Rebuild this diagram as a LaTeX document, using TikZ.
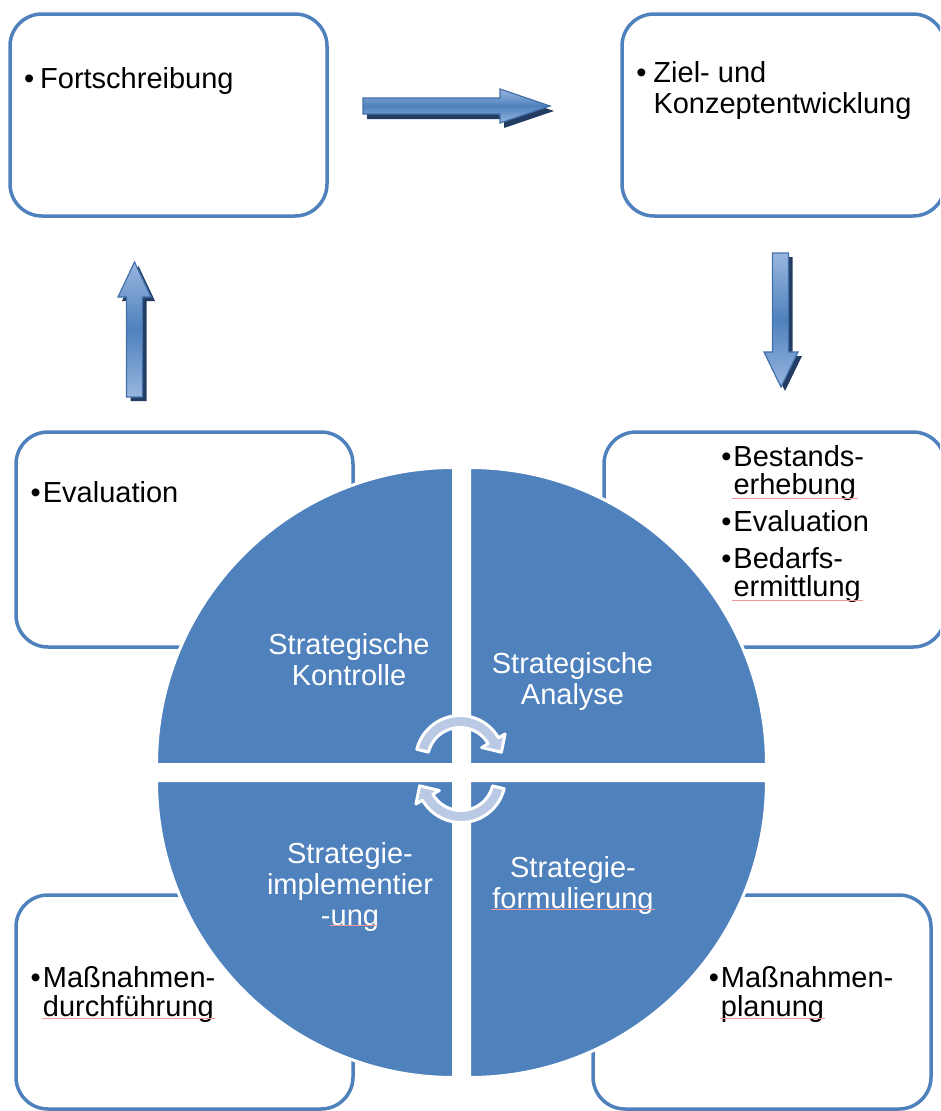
\documentclass[tikz,border=0pt]{standalone}
\usepackage{fontspec}
\setmainfont{Liberation Sans}
\usetikzlibrary{calc}
\definecolor{acc}{RGB}{79,129,189}
\definecolor{arrline}{RGB}{66,112,172}
\definecolor{arrlight}{RGB}{152,182,222}
\definecolor{shad}{RGB}{35,60,98}
\definecolor{cyc}{RGB}{186,202,228}
\definecolor{spell}{RGB}{242,150,150}
\begin{document}
\begin{tikzpicture}[x=1pt,y=-1pt,
  box/.style={draw=acc, line width=3.5pt, rounded corners=32pt, fill=white, inner sep=0pt},
  btxt/.style={font=\fontsize{29}{31.5}\selectfont, text=black, align=left, inner sep=0pt, anchor=base west},
  qtxt/.style={font=\fontsize{29}{31}\selectfont, text=white, align=center, inner sep=0pt},
  quad/.style={fill=acc, draw=white, line width=3pt},
  blockarrow/.style={draw=arrline, line width=1.2pt, line join=miter, top color=arrlight, bottom color=arrlight, middle color=acc},
  arrowshadow/.style={fill=shad},
  cycarrow/.style={fill=cyc, draw=white, line width=3pt, line join=round},
  spellline/.style={draw=spell, line width=0.9pt}]
\useasboundingbox (0,0) rectangle (940,1111);
\clip (0,0) rectangle (940,1111);

% boxes
\node[box, minimum width=317pt, minimum height=202pt] (bfort) at (168.5,115) {};
\node[box, minimum width=323pt, minimum height=202pt] (bziel) at (783.5,115) {};
\node[box, minimum width=337pt, minimum height=215pt] (beval) at (184.5,539.5) {};
\node[box, minimum width=341pt, minimum height=215pt] (bbest) at (774.5,539.5) {};
\node[box, minimum width=337pt, minimum height=214pt] (bdurch) at (184.5,1002) {};
\node[box, minimum width=338pt, minimum height=214pt] (bplan) at (762,1002) {};

% quadrants
\path[quad] (453.5,764.5) -- (156.5,764.5) arc[start angle=180, end angle=270, radius=297] -- cycle;
\path[quad] (469.5,764.5) -- (469.5,467.5) arc[start angle=270, end angle=360, radius=297] -- cycle;
\path[quad] (469.5,780.5) -- (766.5,780.5) arc[start angle=0, end angle=90, radius=297] -- cycle;
\path[quad] (453.5,780.5) -- (453.5,1077.5) arc[start angle=90, end angle=180, radius=297] -- cycle;

% box texts (base anchor = baseline of the last line)
\node[btxt] (tfort) at (40,88.5) {\llap{•\hspace{6pt}}Fortschreibung};
\node[btxt] (tziel) at (653.3,113.5) {\llap{•\hspace{7pt}}Ziel- und\\Konzeptentwicklung};
\node[btxt] (teval) at (42.7,502.3) {\llap{•\hspace{2pt}}Evaluation};
\node[btxt, font=\fontsize{29}{28.4}\selectfont] (tbest) at (733.3,596.7)
  {\llap{•\hspace{2pt}}Bestands-\\erhebung\\[8.4pt]\llap{•\hspace{2pt}}Evaluation\\[8.4pt]\llap{•\hspace{2pt}}Bedarfs-\\ermittlung};
\node[btxt, font=\fontsize{29}{29.4}\selectfont] (tdurch) at (42.7,1016.7) {\llap{•\hspace{2pt}}Maßnahmen-\\durchführung};
\node[btxt, font=\fontsize{29}{29.4}\selectfont] (tplan) at (720.7,1016.7) {\llap{•\hspace{2pt}}Maßnahmen-\\planung};

\node[qtxt] (qk) at (349,660) {Strategische\\Kontrolle};
\node[qtxt] (qa) at (572.5,681.5) {Strategische\\Analyse};
\node[qtxt] (qi) at (350,886.5) {Strategie-\\implementier\\-ung};
\node[qtxt] (qf) at (573,885.5) {Strategie-\\formulierung};

% cycle arrows
\coordinate (U) at (460,760);
\coordinate (L) at (461,778);
\path[cycarrow] ($(U)+(194:44.5)$) arc[start angle=194, end angle=330, radius=44.5]
  -- ($(U)+(330:52)$) -- ($(U)+(330:38.5)+(55:14)$) -- ($(U)+(330:25)$)
  -- ($(U)+(330:32.5)$) arc[start angle=330, end angle=194, radius=32.5] -- cycle;
\path[cycarrow] ($(L)+(14:44.5)$) arc[start angle=14, end angle=150, radius=44.5]
  -- ($(L)+(150:52)$) -- ($(L)+(150:38.5)+(235:14)$) -- ($(L)+(150:25)$)
  -- ($(L)+(150:32.5)$) arc[start angle=150, end angle=14, radius=32.5] -- cycle;

% block arrows (shadow first)
\fill[arrowshadow, shift={(4,5)}] (363,98) -- (500,98) -- (500,89) -- (550,106) -- (500,123) -- (500,114) -- (363,114) -- cycle;
\path[blockarrow] (363,98) -- (500,98) -- (500,89) -- (550,106) -- (500,123) -- (500,114) -- (363,114) -- cycle;

\fill[arrowshadow, shift={(4,4)}] (126.5,397) -- (126.5,297) -- (118,297) -- (134.5,262) -- (151,297) -- (142.5,297) -- (142.5,397) -- cycle;
\path[blockarrow] (126.5,397) -- (126.5,297) -- (118,297) -- (134.5,262) -- (151,297) -- (142.5,297) -- (142.5,397) -- cycle;

\fill[arrowshadow, shift={(4,4)}] (772.5,253) -- (788.5,253) -- (788.5,352) -- (798,352) -- (781,387) -- (764,352) -- (772.5,352) -- cycle;
\path[blockarrow] (772.5,253) -- (788.5,253) -- (788.5,352) -- (798,352) -- (781,387) -- (764,352) -- (772.5,352) -- cycle;

% spell-check underlines
\draw[spellline] (731.7,498.3) -- (858.3,498.3);
\draw[spellline] (731.7,600) -- (863.3,600);
\draw[spellline] (41.7,1018.3) -- (215,1018.3);
\draw[spellline] (720,1018.3) -- (825,1018.3);
\draw[spellline] (491,909) -- (655,909);
\draw[spellline] (330,925) -- (378,925);
\end{tikzpicture}
\end{document}
